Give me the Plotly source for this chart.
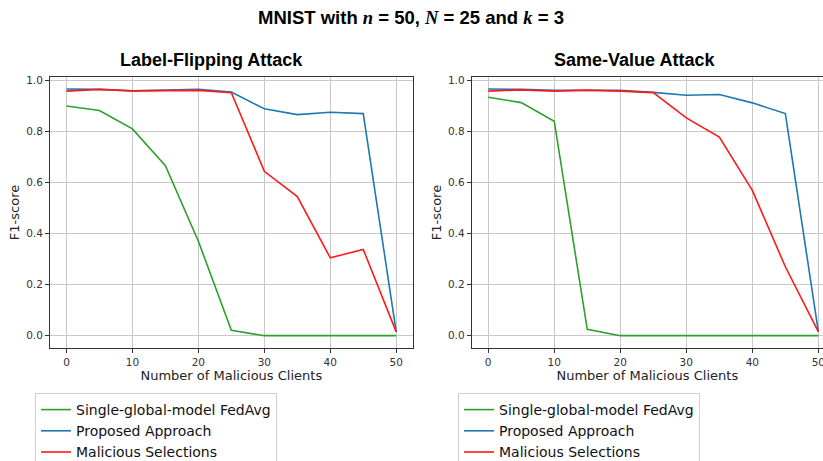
import plotly.graph_objects as go

x_clients = [0, 5, 10, 15, 20, 25, 30, 35, 40, 45, 50]

lf_fedavg = [0.900, 0.882, 0.810, 0.666, 0.370, 0.021, 0.0, 0.0, 0.0, 0.0, 0.0]
lf_proposed = [0.966, 0.965, 0.959, 0.961, 0.965, 0.954, 0.889, 0.866, 0.875, 0.870, 0.015]
lf_malicious = [0.958, 0.965, 0.959, 0.961, 0.961, 0.952, 0.644, 0.545, 0.305, 0.338, 0.015]

sv_fedavg = [0.934, 0.913, 0.840, 0.025, 0.0, 0.0, 0.0, 0.0, 0.0, 0.0, 0.0]
sv_proposed = [0.966, 0.965, 0.961, 0.962, 0.961, 0.953, 0.942, 0.945, 0.912, 0.870, 0.015]
sv_malicious = [0.958, 0.963, 0.958, 0.962, 0.958, 0.952, 0.853, 0.778, 0.569, 0.270, 0.015]

series_names = ["Single-global-model FedAvg", "Proposed Approach", "Malicious Selections"]
series_colors = ["#2ca02c", "#1f77b4", "#ff1a1a"]

x_ticks = [0, 10, 20, 30, 40, 50]
y_ticks = [0.0, 0.2, 0.4, 0.6, 0.8, 1.0]
y_tick_labels = ["0.0", "0.2", "0.4", "0.6", "0.8", "1.0"]

W, H = 823, 461
FONT = "Liberation Sans, Arial, sans-serif"
MPL_FONT = "DejaVu Sans, sans-serif"

fig = go.Figure()

panels = [
    ([lf_fedavg, lf_proposed, lf_malicious], "x", "y", "legend"),
    ([sv_fedavg, sv_proposed, sv_malicious], "x2", "y2", "legend2"),
]
for data, xa, ya, lg in panels:
    for vals, name, col in zip(data, series_names, series_colors):
        fig.add_trace(go.Scatter(
            x=x_clients, y=vals, mode="lines", name=name,
            line=dict(color=col, width=1.6),
            xaxis=xa, yaxis=ya, legend=lg,
        ))

def px_x(p):
    return p / W

def px_y(p):
    return 1 - p / H

ydom = [px_y(348), px_y(77)]
axis_common = dict(
    showgrid=True, gridcolor="#c8c8c8", gridwidth=1,
    showline=True, linecolor="#333333", linewidth=1,
    ticks="outside", ticklen=4, tickcolor="#333333",
    tickfont=dict(family=MPL_FONT, size=10.5, color="#333333"),
    zeroline=False, ticklabeloverflow="allow",
)
xtitle = dict(text="Number of Malicious Clients", font=dict(family=MPL_FONT, size=13, color="#222"), standoff=3)
ytitle = dict(text="F1-score", font=dict(family=MPL_FONT, size=13, color="#222"), standoff=3)

legend_common = dict(
    xanchor="left", yanchor="top",
    bordercolor="#d0d0d0", borderwidth=1, bgcolor="white",
    font=dict(family=MPL_FONT, size=14, color="#111"),
    tracegroupgap=0, itemwidth=30,
)

fig.update_layout(
    width=W, height=H,
    margin=dict(l=0, r=0, t=0, b=0, autoexpand=False),
    paper_bgcolor="white", plot_bgcolor="white",
    font=dict(family=FONT),
    xaxis=dict(domain=[px_x(50), px_x(412.7)], range=[-2.5, 52.5],
               tickvals=x_ticks, mirror=True, anchor="y", title=xtitle, **axis_common),
    yaxis=dict(domain=ydom, range=[-0.0483, 1.0133], tickvals=y_ticks, ticktext=y_tick_labels,
               mirror=True, anchor="x", title=ytitle, **axis_common),
    xaxis2=dict(domain=[px_x(471.7), 1.0], range=[-2.5, 50.7],
                tickvals=x_ticks, mirror=True, anchor="y2", title=xtitle, **axis_common),
    yaxis2=dict(domain=ydom, range=[-0.0483, 1.0133], tickvals=y_ticks, ticktext=y_tick_labels,
                mirror=False, anchor="x2", title=ytitle, **axis_common),
    legend=dict(x=px_x(35), y=px_y(393), **legend_common),
    legend2=dict(x=px_x(458), y=px_y(393), **legend_common),
    showlegend=True,
)

serif_i = "font-family:'Liberation Serif','Times New Roman',serif;font-style:italic"
title_text = ("<b>MNIST with </b><span style=\"%s\"><b>n</b></span><b> = 50, </b>"
              "<span style=\"%s\"><b>N</b></span><b> = 25 and </b>"
              "<span style=\"%s\"><b>k</b></span><b> = 3</b>") % (serif_i, serif_i, serif_i)

fig.add_annotation(x=px_x(411), y=px_y(17), xref="paper", yref="paper",
                   text=title_text, showarrow=False,
                   font=dict(family=FONT, size=18.5, color="black"),
                   xanchor="center", yanchor="middle")
fig.add_annotation(x=px_x(212), y=px_y(60), xref="paper", yref="paper",
                   text="<b>Label-Flipping Attack</b>", showarrow=False,
                   font=dict(family=FONT, size=18, color="black"),
                   xanchor="center", yanchor="middle")
fig.add_annotation(x=px_x(634), y=px_y(60), xref="paper", yref="paper",
                   text="<b>Same-Value Attack</b>", showarrow=False,
                   font=dict(family=FONT, size=18, color="black"),
                   xanchor="center", yanchor="middle")

fig.write_html("out.html")
